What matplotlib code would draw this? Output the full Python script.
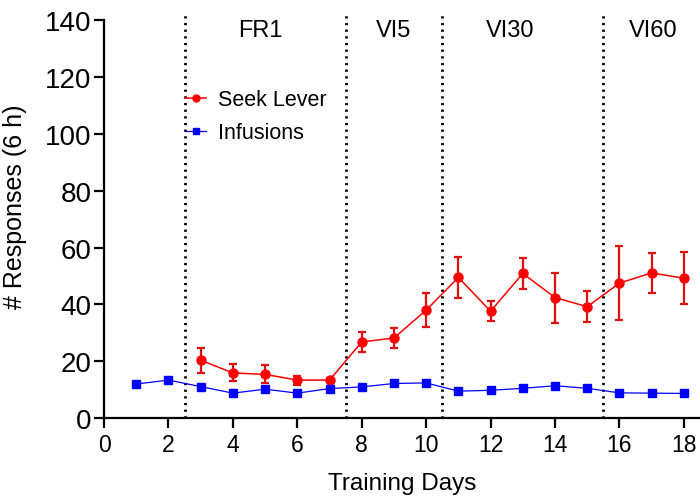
import matplotlib
matplotlib.use("Agg")
import matplotlib.pyplot as plt
from matplotlib.lines import Line2D

plt.rcParams['font.family'] = ['Liberation Sans', 'DejaVu Sans']

# === data ===
days_seek = [3, 4, 5, 6, 7, 8, 9, 10, 11, 12, 13, 14, 15, 16, 17, 18]
seek_mean = [20.4, 15.9, 15.4, 13.4, 13.4, 26.8, 28.2, 38.0, 49.5, 37.6, 50.9, 42.4, 39.2, 47.5, 51.1, 49.2]
seek_err = [4.4, 3.0, 3.2, 1.6, 0.8, 3.6, 3.6, 6.0, 7.2, 3.6, 5.6, 8.8, 5.5, 13.1, 7.0, 9.2]

days_inf = [1, 2, 3, 4, 5, 6, 7, 8, 9, 10, 11, 12, 13, 14, 15, 16, 17, 18]
inf_mean = [12.0, 13.4, 11.1, 8.8, 10.2, 8.8, 10.4, 11.0, 12.2, 12.4, 9.5, 9.8, 10.5, 11.4, 10.5, 8.9, 8.8, 8.7]

phase_bounds = [2.5, 7.5, 10.5, 15.5]
phase_names = ["FR1", "VI5", "VI30", "VI60"]
phase_label_x = [4.85, 9.0, 12.6, 17.05]

# === plot ===
fig = plt.figure(figsize=(7.0, 5.02), dpi=100)
ax = fig.add_axes([0.1486, 0.165, 0.8514, 0.793])

for b in phase_bounds:
    ax.plot([b, b], [0, 142], color="black", linestyle=(0, (0.8, 1.6)),
            linewidth=2.0, zorder=1, clip_on=False)
for name, xp in zip(phase_names, phase_label_x):
    ax.text(xp, 136.5, name, ha="center", va="center", fontsize=17)

ax.errorbar(days_seek, seek_mean, yerr=seek_err, color="#ff0000", ecolor="#e01010",
            marker="o", markersize=6.5, linewidth=1.1, elinewidth=1.6, capsize=3,
            capthick=1.6, zorder=3)
ax.plot(days_inf, inf_mean, color="#0000ff", marker="s", markersize=5.5,
        linewidth=0.9, zorder=4)

ax.set_xlim(0, 18.5)
ax.set_ylim(0, 140)
ax.set_xticks(range(0, 19, 2))
ax.set_yticks(range(0, 141, 20))
ax.spines["top"].set_visible(False)
ax.spines["right"].set_visible(False)
ax.spines["left"].set_linewidth(1.6)
ax.spines["bottom"].set_linewidth(1.6)
ax.tick_params(axis="y", labelsize=20, length=7, width=1.6, pad=2)
ax.tick_params(axis="x", labelsize=16.5, length=7, width=1.6)
ax.set_xlabel("Training Days", fontsize=17.5)
ax.xaxis.set_label_coords(0.5, -0.135)
ax.set_ylabel("# Responses (6 h)", fontsize=18)
ax.yaxis.set_label_coords(-0.13, 0.533)

handles = [
    Line2D([], [], color="#ff0000", marker="o", markersize=5, linewidth=1.1),
    Line2D([], [], color="#0000ff", marker="s", markersize=5, linewidth=0.9),
]
ax.legend(handles, ["Seek Lever", "Infusions"], loc="upper left",
          bbox_to_anchor=(0.103, 0.875), frameon=False, fontsize=15.5,
          handlelength=1.0, handletextpad=0.55, labelspacing=0.55)

fig.savefig("out.png", dpi=100)
